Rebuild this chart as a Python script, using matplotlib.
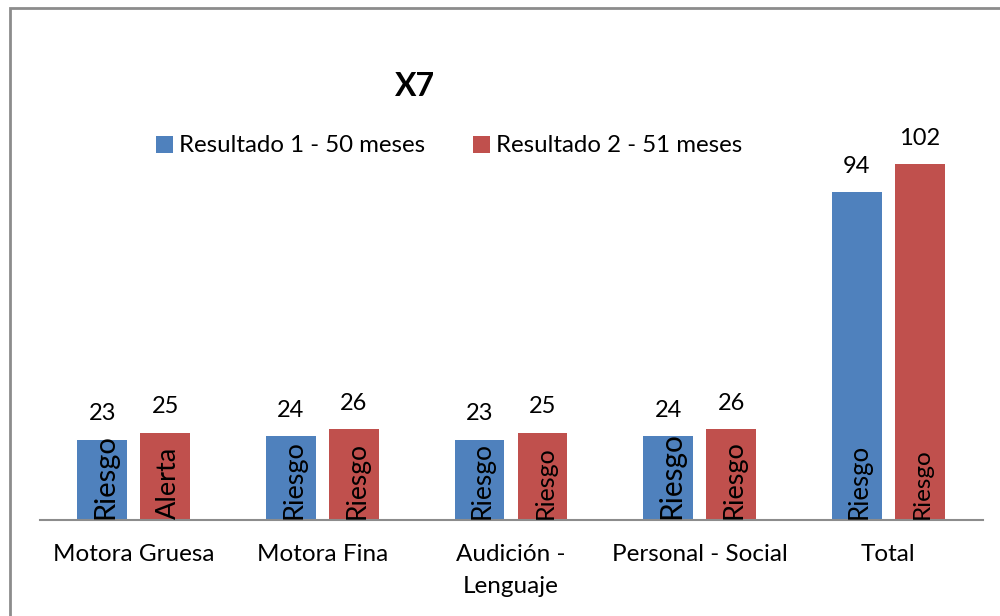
import matplotlib
matplotlib.use("Agg")
import matplotlib.pyplot as plt
from matplotlib.patches import Rectangle, Patch
import numpy as np

plt.rcParams['font.family'] = ['Lato', 'DejaVu Sans']

title = "X7"
categories = ["Motora Gruesa", "Motora Fina", "Audición -\nLenguaje", "Personal - Social", "Total"]
series_names = ["Resultado 1 - 50 meses", "Resultado 2 - 51 meses"]
values_1 = [23, 24, 23, 24, 94]
values_2 = [25, 26, 25, 26, 102]
labels_1 = ["Riesgo", "Riesgo", "Riesgo", "Riesgo", "Riesgo"]
labels_2 = ["Alerta", "Riesgo", "Riesgo", "Riesgo", "Riesgo"]
inner_size_1 = [21, 19.5, 19, 21.5, 18.5]
inner_size_2 = [19.5, 19, 18, 19.5, 17.5]

blue = "#4F81BD"
red = "#C0504D"

fig = plt.figure(figsize=(10, 6.16), dpi=100)
ax = fig.add_axes([0.0395, 1 - 520 / 616, 0.943, 419 / 616])

x = np.arange(len(categories))
w = 0.265
off = 0.167
b1 = ax.bar(x - off, values_1, w, color=blue)
b2 = ax.bar(x + off, values_2, w, color=red)

ax.set_xlim(-0.5, len(categories) - 0.5)
ax.set_ylim(0, 120)

for bars, vals in ((b1, values_1), (b2, values_2)):
    for r, v in zip(bars, vals):
        ax.annotate(str(v), (r.get_x() + r.get_width() / 2, v), xytext=(0, 11),
                    textcoords="offset points", ha="center", va="bottom", fontsize=17)

for bars, labs, sizes in ((b1, labels_1, inner_size_1), (b2, labels_2, inner_size_2)):
    for r, lab, s in zip(bars, labs, sizes):
        ax.annotate(lab, (r.get_x() + r.get_width() / 2, 0), xytext=(2, 1),
                    textcoords="offset points", ha="center", va="bottom",
                    rotation=90, fontsize=s, color="black")

ax.set_xticks(x)
ax.set_xticklabels(categories, fontsize=17.5, linespacing=1.65)
ax.tick_params(axis="x", length=0, pad=17)
ax.set_yticks([])
for s in ("left", "right", "top"):
    ax.spines[s].set_visible(False)
ax.spines["bottom"].set_color("#8c8c8c")
ax.spines["bottom"].set_linewidth(1.5)

fig.text(0.415, 1 - 87 / 616, title, ha="center", va="center", fontsize=23, fontweight="bold")

handles = [Patch(facecolor=blue), Patch(facecolor=red)]
fig.legend(handles, series_names, loc="center", bbox_to_anchor=(0.449, 1 - 146 / 616),
           ncol=2, frameon=False, fontsize=17.3, handlelength=0.7, handleheight=0.7,
           handletextpad=0.25, columnspacing=2.0)

fig.patches.append(Rectangle((10 / 1000, -0.1), 1.2, 1.1 - 8 / 616, transform=fig.transFigure,
                             fill=False, edgecolor="#8c8c8c", linewidth=2.0))

fig.savefig("out.png", dpi=100)
